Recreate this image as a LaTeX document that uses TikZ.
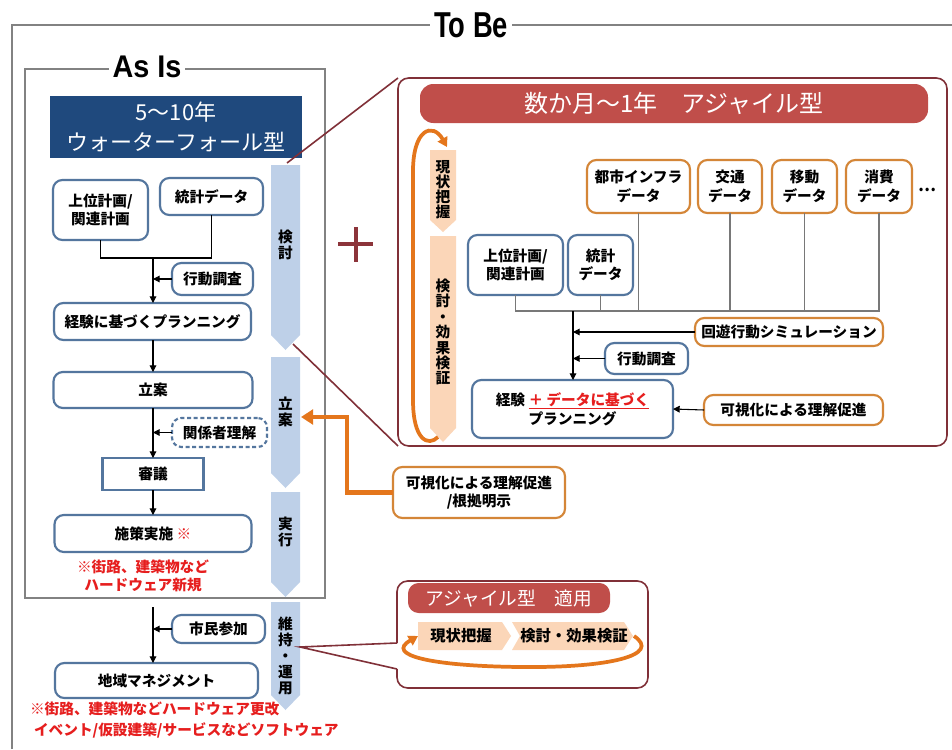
\documentclass[tikz,border=0pt]{standalone}
\usepackage{graphicx}
\usepackage{fontspec}
\setmainfont{Noto Sans CJK JP}
\newfontfamily\latinb{Liberation Sans}
\usetikzlibrary{arrows.meta}
\definecolor{hdrblue}{RGB}{31,73,125}
\definecolor{colblue}{RGB}{190,208,232}
\definecolor{boxblue}{RGB}{84,118,158}
\definecolor{boxorange}{RGB}{212,134,56}
\definecolor{orangeA}{RGB}{228,118,28}
\definecolor{peach}{RGB}{251,214,184}
\definecolor{titlered}{RGB}{192,78,74}
\definecolor{calloutred}{RGB}{128,48,56}
\definecolor{textred}{RGB}{230,30,30}
\definecolor{framegray}{RGB}{130,130,130}
\definecolor{linegray}{RGB}{120,120,120}
\definecolor{plusred}{RGB}{140,52,58}
\begin{document}
\begin{tikzpicture}[x=0.75pt,y=-0.75pt,
  every node/.style={inner sep=0pt, outer sep=0pt},
  sz/.style 2 args={minimum width=#1*0.75pt, minimum height=#2*0.75pt},
  bbox/.style={draw=boxblue, line width=1.6pt, rounded corners=7pt, fill=white, align=center, font=\fontsize{11}{14}\selectfont\bfseries},
  obox/.style={bbox, draw=boxorange},
  sqbox/.style={bbox, rounded corners=0pt},
  dbox/.style={bbox, dash pattern=on 3pt off 2pt},
  arr/.style={draw=black, line width=0.8pt, -{Triangle[length=5pt,width=5pt]}},
  gline/.style={draw=linegray, line width=0.8pt},
  vlabel/.style={align=center, font=\fontsize{11}{12}\selectfont\bfseries},
  callline/.style={draw=calloutred, line width=1.2pt},
  oarr/.style={draw=orangeA, line width=3.5pt, -{Triangle[length=9pt,width=11pt]}},
  oloop/.style={draw=orangeA, line width=2.8pt, -{Triangle[length=7pt,width=8pt]}},
  frame/.style={draw=framegray, line width=1.5pt},
  ftitle/.style={fill=white, inner xsep=3pt, inner ysep=1pt, font=\latinb\bfseries\fontsize{27}{27}\selectfont},
  rednote/.style={text=textred, font=\fontsize{11}{13}\selectfont\bfseries},
  redbar/.style={fill=titlered, rounded corners=10pt, text=white}
]
\useasboundingbox (0,0) rectangle (952,749);
\fill[white] (0,0) rectangle (952,749);

% ---- frames ----
\draw[frame] (12,749) -- (12,25) -- (952,25);
\node[ftitle] (tobe) at (471,25) {\scalebox{0.76}[1]{To Be}};
\draw[frame] (25,69) rectangle (325,598);
\node[ftitle, font=\latinb\bfseries\fontsize{23.5}{23.5}\selectfont] (asis) at (147,67) {\scalebox{0.92}[1]{As Is}};

% ---- As Is header ----
\node[fill=hdrblue, text=white, sz={252}{62}, align=center, font=\fontsize{16.5}{23}\selectfont] (hdr) at (176,127) {5～10年\\ウォーターフォール型};

% ---- phase columns (blue) ----
\fill[colblue] (271,165) -- (300,165) -- (300,335) -- (285.5,350) -- (271,335) -- cycle;
\fill[colblue] (271,357) -- (300,357) -- (300,473) -- (285.5,488) -- (271,473) -- cycle;
\fill[colblue] (271,492) -- (300,492) -- (300,582) -- (285.5,597) -- (271,582) -- cycle;
\fill[colblue] (271,602) -- (300,602) -- (300,695) -- (285.5,710) -- (271,695) -- cycle;
\node[vlabel] (ph1) at (285.5,245) {検\\討};
\node[vlabel] (ph2) at (285.5,412) {立\\案};
\node[vlabel] (ph3) at (285.5,532) {実\\行};
\node[vlabel] (ph4) at (285.5,656) {維\\持\\・\\運\\用};
\coordinate (colR) at (301,417);
\coordinate (tipTop) at (287,163);
\coordinate (tipBot) at (293,344);
\coordinate (tipMaint) at (300,647);

% ---- As Is flow ----
\node[bbox, sz={95}{60}] (a1) at (100.5,210) {上位計画/\\関連計画};
\node[bbox, sz={103}{37}] (a2) at (211.5,196.5) {統計データ};
\coordinate (j1) at (153,258);
\draw[gline, draw=black] (a1.south) -- (a1.south |- j1) -- (a2.south |- j1) -- (a2.south);
\node[bbox, sz={197}{37}] (a3) at (152.5,321.5) {経験に基づくプランニング};
\draw[arr] (j1) -- (j1 |- a3.north);
\node[bbox, sz={81}{32}] (a4) at (212.5,279) {行動調査};
\draw[arr] (a4.west) -- (a4.west -| j1);
\node[bbox, sz={199}{36}] (a5) at (153,390) {立案};
\draw[arr] (a3.south -| j1) -- (j1 |- a5.north);
\node[dbox, sz={95}{29}] (a6) at (219.5,432.5) {関係者理解};
\node[sqbox, sz={101}{32}] (a7) at (153,474) {審議};
\draw[arr] (a5.south -| j1) -- (j1 |- a7.north);
\draw[arr] (a6.west) -- (a6.west -| j1);
\node[bbox, sz={197}{37}] (a8) at (153,533.5) {施策実施 \textcolor{textred}{※}};
\draw[arr] (a7.south) -- (a8.north);
\node[rednote, align=center] (n1) at (143,576) {※街路、建築物など\\ハードウェア新規};
\coordinate (j2) at (153,607);
\node[bbox, sz={93}{28}] (a9) at (218.5,629) {市民参加};
\node[bbox, sz={203}{35}] (a10) at (156.5,680.5) {地域マネジメント};
\draw[arr] (j2) -- (j2 |- a10.north);
\draw[arr] (a9.west) -- (a9.west -| j2);
\node[rednote, align=left, anchor=west, font=\fontsize{11}{16}\selectfont\bfseries] (n2) at (30,720) {※街路、建築物などハードウェア更改\\\hspace{3pt}イベント/仮設建築/サービスなどソフトウェア};

% ---- plus ----
\draw[plusred, line width=3pt] (338,244) -- (373,244) (355.5,227) -- (355.5,262);

% ---- big callout ----
\node[draw=calloutred, line width=1.2pt, rounded corners=8pt, sz={549}{368}] (big) at (672.5,262) {};
\draw[callline] (tipTop) -- (big.north west);
\draw[callline] (tipBot) -- (big.south west);
\node[redbar, sz={508}{39}, font=\fontsize{18}{18}\selectfont] (rt) at (674,103.5) {数か月～1年\hspace{1em}アジャイル型};

% peach columns
\fill[peach] (430,150) -- (456,150) -- (456,220) -- (443,232) -- (430,220) -- cycle;
\fill[peach] (430,236) -- (456,236) -- (456,428) -- (443,442) -- (430,428) -- cycle;
\node[vlabel, font=\fontsize{11}{11.2}\selectfont\bfseries] (pp1) at (443,190) {現\\状\\把\\握};
\node[vlabel, font=\fontsize{11}{11.6}\selectfont\bfseries] (pp2) at (443,332) {検\\討\\・\\効\\果\\検\\証};
\draw[oloop] (438,437) .. controls (428,447) and (413,440) .. (413,400) -- (413,175) .. controls (412,128) and (433,122) .. (447,147);

% data boxes
\node[obox, sz={103}{53}] (d1) at (638.5,186.5) {都市インフラ\\データ};
\node[obox, sz={64}{53}] (d2) at (730,186.5) {交通\\データ};
\node[obox, sz={65}{53}] (d3) at (804.5,186.5) {移動\\データ};
\node[obox, sz={66}{53}] (d4) at (879,186.5) {消費\\データ};
\node[font=\fontsize{12}{12}\selectfont\bfseries] (dots) at (927,190) {…};
\node[bbox, sz={95}{60}] (b1) at (515.5,265) {上位計画/\\関連計画};
\node[bbox, sz={65}{60}] (b2) at (600.5,265) {統計\\データ};
\coordinate (hj) at (573,311);
\draw[gline] (b1.south) -- (b1.south |- hj) -- (d4.south |- hj) -- (d4.south);
\draw[gline] (b2.south) -- (b2.south |- hj);
\draw[gline] (d1.south) -- (d1.south |- hj);
\draw[gline] (d2.south) -- (d2.south |- hj);
\draw[gline] (d3.south) -- (d3.south |- hj);
\node[obox, sz={188}{28}] (s1) at (789,332) {回遊行動シミュレーション};
\node[bbox, sz={83}{31}] (k1) at (646.5,358.5) {行動調査};
\node[bbox, sz={201}{58}, font=\fontsize{11}{14.5}\selectfont\bfseries] (p1) at (572.5,409) {経験 \textcolor{textred}{\underline{＋ データに基づく}}\\プランニング};
\node[obox, sz={179}{30}] (v1) at (793.5,410) {可視化による理解促進};
\draw[arr] (hj) -- (hj |- p1.north);
\draw[arr] (s1.west) -- (s1.west -| hj);
\draw[arr] (k1.west) -- (k1.west -| hj);
\draw[arr] (v1.west) -- (p1.east);

% ---- orange feedback arrow ----
\node[obox, sz={172}{51}] (v2) at (479,492.5) {可視化による理解促進\\/根拠明示};
\draw[oarr] (v2.west) -- ++(-46,0) |- (colR);

% ---- bottom callout ----
\draw[callline, rounded corners=8pt] (397,643) -- (397,581) -- (648,581) -- (648,688) -- (397,688) -- (397,669);
\draw[callline] (397,643) -- (tipMaint) -- (397,669);
\node[redbar, rounded corners=8pt, sz={202}{30}, font=\fontsize{14}{14}\selectfont] (bt) at (509,598) {アジャイル型\hspace{1em}適用};
\fill[peach] (418,622) -- (502,622) -- (511,636) -- (502,650) -- (418,650) -- cycle;
\fill[peach] (512,622) -- (624,622) -- (633,636) -- (624,650) -- (512,650) -- (520,636) -- cycle;
\node[font=\fontsize{11.5}{12}\selectfont\bfseries] (q1) at (461,636) {現状把握};
\node[font=\fontsize{11.5}{12}\selectfont\bfseries] (q2) at (574,636) {検討・効果検証};
\draw[oloop] (634,636) .. controls (662,655) and (610,668) .. (520,667) .. controls (430,666) and (385,655) .. (418,636);
\end{tikzpicture}
\end{document}
